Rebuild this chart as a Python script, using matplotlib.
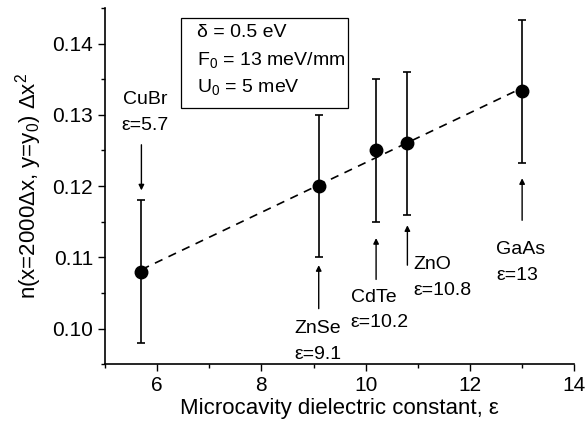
import numpy as np
import matplotlib
matplotlib.use("Agg")
import matplotlib.pyplot as plt
from matplotlib.ticker import MultipleLocator, FormatStrFormatter
from matplotlib.patches import Rectangle

plt.rcParams['font.family'] = ['Liberation Sans', 'DejaVu Sans']
plt.rcParams['mathtext.fontset'] = 'custom'
plt.rcParams['mathtext.rm'] = 'Liberation Sans'
plt.rcParams['mathtext.it'] = 'Liberation Sans'

# data
materials = ["CuBr", "ZnSe", "CdTe", "ZnO", "GaAs"]
eps = [5.7, 9.1, 10.2, 10.8, 13.0]
n_val = [0.108, 0.120, 0.125, 0.126, 0.1333]
n_err = [0.010, 0.010, 0.010, 0.010, 0.010]

# arrow (tail, head) in data y, and label positions
arrow_tail = [0.1258, 0.1028, 0.1069, 0.1089, 0.1152]
arrow_head = [0.1194, 0.1089, 0.1127, 0.1145, 0.1211]
label_x = [5.77, 9.08, 9.71, 10.92, 12.5]
label_y = [0.1321, 0.1000, 0.1044, 0.1090, 0.1111]
label_ha = ["center", "center", "left", "left", "left"]

box_lines = ["δ = 0.5 eV", "F$_0$ = 13 meV/mm", "U$_0$ = 5 meV"]

fig = plt.figure(figsize=(5.86, 4.22), dpi=100)
ax = fig.add_axes([0.179, 0.137, 0.801, 0.844])

ax.errorbar(eps, n_val, yerr=n_err, fmt='o', color='black', ms=9,
            elinewidth=1.2, capsize=3, capthick=1.2, zorder=3)

# linear fit, dashed
k, b = np.polyfit(eps, n_val, 1)
xs = np.array([eps[0], eps[-1]])
ax.plot(xs, k * xs + b, ls=(0, (5, 4)), color='black', lw=1.2)

for i, name in enumerate(materials):
    ax.annotate("", xy=(eps[i], arrow_head[i]), xytext=(eps[i], arrow_tail[i]),
                arrowprops=dict(arrowstyle='-|>', color='black', lw=1.0,
                                mutation_scale=8, shrinkA=0, shrinkB=0))
    ax.text(label_x[i], label_y[i], name, ha=label_ha[i], va='center', fontsize=14)
    ax.text(label_x[i], label_y[i] - 0.0036, "ε=%g" % eps[i], ha=label_ha[i],
            va='center', fontsize=14)

# parameter box
ax.add_patch(Rectangle((0.162, 0.719), 0.356, 0.253, transform=ax.transAxes,
                       fc='white', ec='black', lw=0.9, zorder=4))
for j, line in enumerate(box_lines):
    ax.text(0.196, 0.930 - j * 0.076, line, transform=ax.transAxes,
            ha='left', va='center', fontsize=14, zorder=5)

ax.set_xlim(5, 14)
ax.set_ylim(0.095, 0.145)
ax.xaxis.set_major_locator(MultipleLocator(2))
ax.xaxis.set_minor_locator(MultipleLocator(1))
ax.yaxis.set_major_locator(MultipleLocator(0.01))
ax.yaxis.set_minor_locator(MultipleLocator(0.005))
ax.yaxis.set_major_formatter(FormatStrFormatter('%.2f'))
ax.tick_params(which='major', length=5, width=1, labelsize=15)
ax.tick_params(which='minor', length=3, width=1)

ax.spines['top'].set_visible(False)
ax.spines['right'].set_visible(False)
ax.spines['left'].set_linewidth(1.2)
ax.spines['bottom'].set_linewidth(1.2)

ax.set_xlabel("Microcavity dielectric constant, ε", fontsize=16, labelpad=2)
ax.set_ylabel("n(x=2000Δx, y=y$_0$) Δx$^2$", fontsize=16, labelpad=6)

fig.savefig("out.png", dpi=100)
